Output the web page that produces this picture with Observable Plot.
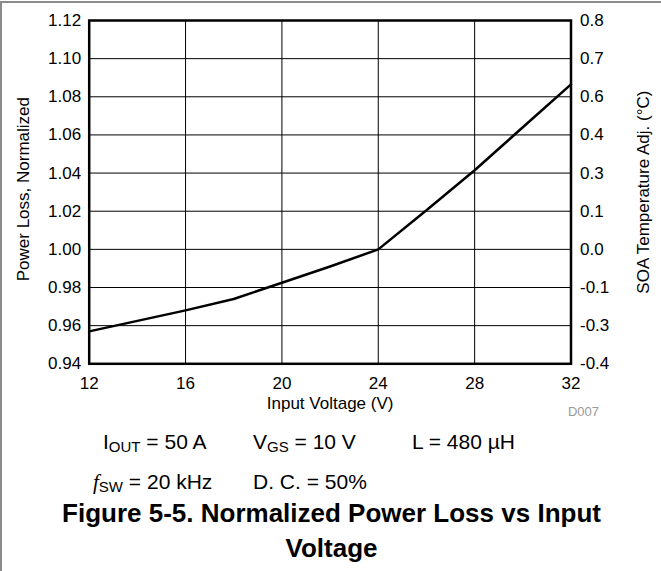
<!DOCTYPE html>
<html>
<head>
<meta charset="utf-8">
<script src="https://cdn.jsdelivr.net/npm/d3@7"></script>
<script src="https://cdn.jsdelivr.net/npm/@observablehq/plot@0.6"></script>
<style>
  html, body { margin: 0; padding: 0; background: #fff; }
  #page { position: relative; width: 661px; height: 571px; overflow: hidden; font-family: "Liberation Sans", Arial, sans-serif; color: #000; }
  #border { position: absolute; left: 0; top: 1px; width: 661px; height: 580px; border-top: 2px solid #8c8c8c; border-left: 2px solid #8c8c8c; box-sizing: border-box; }
  #chart { position: absolute; left: 0; top: 0; }
  .cap { position: absolute; font-size: 21px; line-height: 21px; white-space: nowrap; }
  .cap sub { font-size: 15px; vertical-align: -3px; line-height: 0; }
  .cap .f { font-family: "Liberation Serif", "Times New Roman", serif; font-style: italic; }
  .title { position: absolute; left: 1px; width: 661px; text-align: center; font-weight: bold; font-size: 26px; line-height: 26px; white-space: nowrap; }
</style>
</head>
<body>
<div id="page">
  <div id="border"></div>
  <div id="chart"></div>
  <div class="cap" style="left:103px; top:431px;">I<sub>OUT</sub> = 50 A</div>
  <div class="cap" style="left:253px; top:431px;">V<sub>GS</sub> = 10 V</div>
  <div class="cap" style="left:412px; top:431px;">L = 480 µH</div>
  <div class="cap" style="left:93px; top:471px;"><span class="f">f</span><sub>SW</sub> = 20 kHz</div>
  <div class="cap" style="left:253px; top:471px;">D. C. = 50%</div>
  <div class="title" style="top:500px;">Figure 5-5. Normalized Power Loss vs Input</div>
  <div class="title" style="top:535px;">Voltage</div>
</div>
<script>
// Data
const voltage   = [12, 14, 16, 18, 20, 22, 24, 26, 28, 30, 32];
const powerLoss = [0.957, 0.9625, 0.968, 0.974, 0.9825, 0.991, 1.000, 1.0205, 1.0415, 1.064, 1.0865];

// Tick values and labels
const xTicks = [12, 16, 20, 24, 28, 32];
const yTicks = [0.94, 0.96, 0.98, 1.00, 1.02, 1.04, 1.06, 1.08, 1.10, 1.12];
const rightLabels = ["-0.4", "-0.3", "-0.1", "0.0", "0.1", "0.3", "0.4", "0.6", "0.7", "0.8"];

const xTitle = "Input Voltage (V)";
const yTitle = "Power Loss, Normalized";
const y2Title = "SOA Temperature Adj. (°C)";
const figId = "D007";

const data = voltage.map((v, i) => ({v, p: powerLoss[i]}));
const rightMap = new Map(yTicks.map((t, i) => [t, rightLabels[i]]));

const chart = Plot.plot({
  width: 661,
  height: 430,
  marginLeft: 88.7,
  marginRight: 90.5,
  marginTop: 20,
  marginBottom: 66.7,
  x: {domain: [12, 32]},
  y: {domain: [0.94, 1.12]},
  style: {fontFamily: '"Liberation Sans", Arial, sans-serif', fontSize: "17px", color: "#000", background: "transparent"},
  marks: [
    Plot.gridX(xTicks, {stroke: "#000", strokeOpacity: 1, strokeWidth: 1}),
    Plot.gridY(yTicks, {stroke: "#000", strokeOpacity: 1, strokeWidth: 1}),
    Plot.axisX({ticks: xTicks, tickSize: 0, tickPadding: 13, label: null, fontSize: 17}),
    Plot.axisY({anchor: "left", ticks: yTicks, tickSize: 0, tickPadding: 8, tickFormat: d3.format(".2f"), label: null, fontSize: 17}),
    Plot.axisY({anchor: "right", ticks: yTicks, tickSize: 0, tickPadding: 9, tickFormat: d => rightMap.get(d), label: null, fontSize: 17}),
    Plot.line(data, {x: "v", y: "p", stroke: "#000", strokeWidth: 2.5}),
    Plot.frame({stroke: "#000", strokeWidth: 2.5}),
    Plot.text([xTitle], {text: d => d, frameAnchor: "bottom", dy: 40, textAnchor: "middle", lineAnchor: "middle", fontSize: 17}),
    Plot.text([yTitle], {text: d => d, frameAnchor: "left", dx: -66, dy: -3, rotate: -90, textAnchor: "middle", lineAnchor: "middle", fontSize: 17}),
    Plot.text([y2Title], {text: d => d, frameAnchor: "right", dx: 72.5, rotate: -90, textAnchor: "middle", lineAnchor: "middle", fontSize: 17}),
    Plot.text([figId], {text: d => d, frameAnchor: "bottom-right", dx: 12.5, dy: 48, textAnchor: "middle", lineAnchor: "middle", fontSize: 13, fill: "#9a9a9a"})
  ]
});
document.getElementById("chart").appendChild(chart);
</script>
</body>
</html>
